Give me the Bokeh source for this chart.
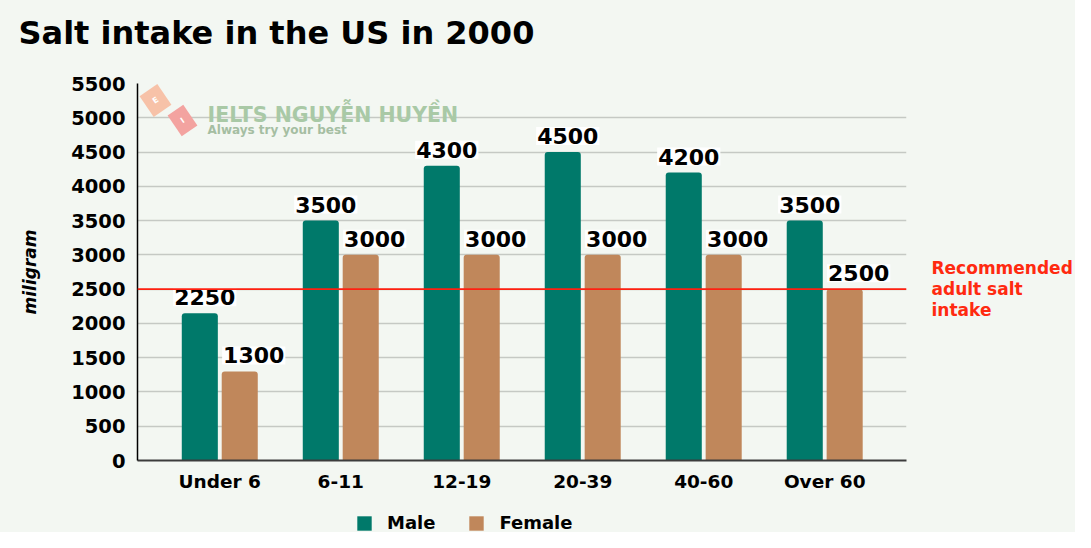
import numpy as np
from bokeh.plotting import figure
from bokeh.layouts import column
from bokeh.models import (Range1d, FixedTicker, Span, Label, Legend, LegendItem, ColumnDataSource, LinearAxis)
from bokeh.core.properties import value
from bokeh.embed import file_html
from bokeh.resources import INLINE

categories = ["Under 6", "6-11", "12-19", "20-39", "40-60", "Over 60"]
male = [2150, 3500, 4300, 4500, 4200, 3500]
female = [1300, 3000, 3000, 3000, 3000, 2500]
male_labels = ["2250", "3500", "4300", "4500", "4200", "3500"]
female_labels = ["1300", "3000", "3000", "3000", "3000", "2500"]
series_names = ["Male", "Female"]
y_ticks = list(range(0, 5501, 500))
recommended = 2500
recommended_text = "Recommended\nadult salt\nintake"
title_text = "Salt intake in the US in 2000"

BG = "#f3f7f2"
MALE_C = "#00796a"
FEMALE_C = "#c0875b"
FONT = "DejaVu Sans"
W = 1075
LB, RB = 137, 162


def strip(height, **kw):
    f = figure(width=W, height=height, output_backend="svg", toolbar_location=None,
               min_border_left=LB, min_border_right=RB, **kw)
    f.axis.visible = False
    f.grid.visible = False
    f.outline_line_color = None
    f.background_fill_color = BG
    f.border_fill_color = BG
    return f


idx = np.arange(len(categories))
off = 0.165
bw = 0.298
src_m = ColumnDataSource(dict(x=idx - off, top=male, lab=male_labels))
src_f = ColumnDataSource(dict(x=idx + off, top=female, lab=female_labels))

# ---- title strip ----
p0 = strip(60, min_border_top=56, min_border_bottom=0, title=title_text,
           x_range=Range1d(0, 1), y_range=Range1d(0, 1))
p0.title.text_font = FONT
p0.title.text_font_style = "bold"
p0.title.text_font_size = "32px"
p0.title.text_color = "black"
p0.title.align = "left"
p0.title.offset = 18 - LB
p0.title.standoff = 10

# ---- main chart ----
p = figure(width=W, height=445, output_backend="svg", toolbar_location=None,
           x_range=Range1d(-0.68, 5.676), y_range=Range1d(0, 5500),
           min_border_left=LB, min_border_right=RB, min_border_top=23, min_border_bottom=45)
p.background_fill_color = BG
p.border_fill_color = BG
p.outline_line_color = None
p.xgrid.grid_line_color = None
p.ygrid.grid_line_color = "#c5c9c4"
p.ygrid.grid_line_width = 1.5

p.vbar(x="x", top="top", width=bw, source=src_m, fill_color=MALE_C, line_color=None,
       border_radius=(3, 3, 0, 0))
p.vbar(x="x", top="top", width=bw, source=src_f, fill_color=FEMALE_C, line_color=None,
       border_radius=(3, 3, 0, 0))

p.add_layout(Span(location=recommended, dimension="width", line_color="#ff2010", line_width=1.6))

p.text(x="x", y="top", text="lab", source=src_m, text_align="center", text_baseline="bottom",
       x_offset=5, y_offset=-7, text_font=value(FONT), text_font_style="bold",
       text_font_size="22px", text_color="black", background_fill_color="white", padding=1)
p.text(x="x", y="top", text="lab", source=src_f, text_align="center", text_baseline="bottom",
       x_offset=14, y_offset=-7, text_font=value(FONT), text_font_style="bold",
       text_font_size="22px", text_color="black", background_fill_color="white", padding=1)

ya = p.yaxis[0]
ya.ticker = FixedTicker(ticks=y_ticks)
ya.major_label_text_font = FONT
ya.major_label_text_font_style = "bold"
ya.major_label_text_font_size = "19.5px"
ya.major_label_text_color = "black"
ya.major_label_standoff = 6
ya.major_tick_line_color = None
ya.minor_tick_line_color = None
ya.axis_line_color = "black"
ya.axis_line_width = 1.5
ya.axis_label = "miligram"
ya.axis_label_text_font = FONT
ya.axis_label_text_font_style = "bold italic"
ya.axis_label_text_font_size = "17px"
ya.axis_label_text_color = "black"
ya.axis_label_standoff = 28

xa = p.xaxis[0]
xa.ticker = FixedTicker(ticks=list(idx))
xa.major_label_overrides = {int(i): c for i, c in zip(idx, categories)}
xa.major_label_text_font = FONT
xa.major_label_text_font_style = "bold"
xa.major_label_text_font_size = "18.5px"
xa.major_label_text_color = "black"
xa.major_label_standoff = 4
xa.major_tick_line_color = None
xa.minor_tick_line_color = None
xa.axis_line_color = "#3c3c3c"
xa.axis_line_width = 2

ra = LinearAxis(ticker=FixedTicker(ticks=[recommended]),
                major_label_overrides={recommended: recommended_text})
ra.axis_line_color = None
ra.major_tick_line_color = None
ra.minor_tick_line_color = None
ra.major_label_standoff = 19
ra.major_label_text_font = FONT
ra.major_label_text_font_style = "bold"
ra.major_label_text_font_size = "17px"
ra.major_label_text_color = "#ff2a10"
ra.major_label_text_align = "left"
ra.major_label_text_line_height = 1.05
p.add_layout(ra, "right")

# watermark
p.add_layout(Label(x=70, y=346, x_units="screen", y_units="screen", text="IELTS NGUYỄN HUYỀN",
                   text_font=FONT, text_font_style="bold", text_font_size="20.5px", text_color="#a9c9a6",
                   text_baseline="alphabetic"))
p.add_layout(Label(x=70, y=331, x_units="screen", y_units="screen", text="Always try your best",
                   text_font=FONT, text_font_style="bold", text_font_size="12px", text_color="#a5bea2",
                   text_baseline="alphabetic"))
for lx, ly, letter, col in [(18, 360, "E", "#f7c2a8"), (45, 340, "I", "#f3a3a0")]:
    p.add_layout(Label(x=lx, y=ly, x_units="screen", y_units="screen", text=letter, angle=0.6,
                       text_font=FONT, text_font_style="bold", text_font_size="8px", text_color="white",
                       text_align="center", text_baseline="middle",
                       background_fill_color=col, padding=8))

# ---- legend strip (same data sources; renderers hidden, only the legend shows) ----
p2 = strip(27, min_border_top=0, min_border_bottom=0,
           x_range=Range1d(-0.68, 5.676), y_range=Range1d(-20000, -10000))
lm = p2.vbar(x="x", top="top", width=bw, source=src_m, fill_color=MALE_C, line_color=None)
lf = p2.vbar(x="x", top="top", width=bw, source=src_f, fill_color=FEMALE_C, line_color=None)
lm.visible = False
lf.visible = False
legend = Legend(items=[LegendItem(label=series_names[0], renderers=[lm]),
                       LegendItem(label=series_names[1], renderers=[lf])],
                location=(355 - LB, -1), orientation="horizontal", glyph_width=18, glyph_height=18,
                label_height=18, label_standoff=14, spacing=32, padding=0, margin=0,
                border_line_alpha=0, background_fill_alpha=0, label_text_font=FONT,
                label_text_font_style="bold", label_text_font_size="18px", label_text_color="black")
p2.add_layout(legend)

layout = column(p0, p, p2, spacing=0, styles={"background-color": BG})
open("out.html", "w").write(file_html(layout, INLINE))
